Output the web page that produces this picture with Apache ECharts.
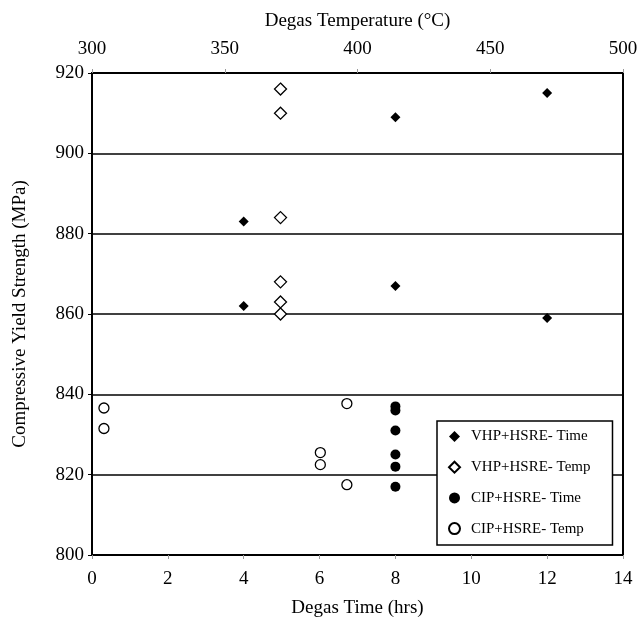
<!DOCTYPE html>
<html><head><meta charset="utf-8">
<script src="https://cdn.jsdelivr.net/npm/echarts@6/dist/echarts.min.js"></script>
<style>html,body{margin:0;padding:0;background:#fff}#c{width:637px;height:618px}</style>
</head><body><div id="c"></div>
<script>
// Degas time (hrs) vs yield strength (MPa)
const vhpTimeX = [4, 4, 8, 8, 12, 12];
const vhpTimeY = [883, 862, 909, 867, 915, 859];
// Degas temperature (°C) vs yield strength
const vhpTempX = [371, 371, 371, 371, 371, 371];
const vhpTempY = [916, 910, 884, 868, 863, 860];
const cipTimeX = [8, 8, 8, 8, 8, 8];
const cipTimeY = [837, 836, 831, 825, 822, 817];
const cipTempX = [304.5, 304.5, 386, 386, 396, 396];
const cipTempY = [836.6, 831.5, 825.5, 822.5, 837.7, 817.5];
const seriesNames = ['VHP+HSRE- Time', 'VHP+HSRE- Temp', 'CIP+HSRE- Time', 'CIP+HSRE- Temp'];

const zip = (a, b) => a.map((v, i) => [v, b[i]]);
const font = 'Liberation Serif';
const chart = echarts.init(document.getElementById('c'), null, {renderer: 'canvas'});
chart.setOption({
  animation: false,
  backgroundColor: '#fff',
  textStyle: {fontFamily: font, color: '#000'},
  grid: {left: 92, right: 14, top: 73, bottom: 63, show: true, borderColor: '#000', borderWidth: 2,
         outerBoundsMode: 'none', containLabel: false},
  legend: {
    orient: 'vertical', left: 437, top: 421,
    padding: [8, 22, 9, 11], itemGap: 15.7, itemWidth: 11, itemHeight: 11,
    backgroundColor: '#fff', borderColor: '#000', borderWidth: 1.5,
    textStyle: {fontFamily: font, fontSize: 15, color: '#000', padding: [0, 0, 0, 6]},
    data: seriesNames
  },
  xAxis: [
    {type: 'value', position: 'bottom', min: 0, max: 14, interval: 2,
     name: 'Degas Time (hrs)', nameLocation: 'middle', nameGap: 44,
     nameTextStyle: {fontFamily: font, fontSize: 19, color: '#000'},
     axisLine: {show: true, lineStyle: {color: '#000', width: 2}},
     axisTick: {show: true, length: 4, lineStyle: {color: '#999'}},
     axisLabel: {fontFamily: font, fontSize: 19, color: '#000', margin: 15},
     splitLine: {show: false}},
    {type: 'value', position: 'top', min: 300, max: 500, interval: 50,
     name: 'Degas Temperature (°C)', nameLocation: 'middle', nameGap: 42,
     nameTextStyle: {fontFamily: font, fontSize: 19, color: '#000'},
     axisLine: {show: true, lineStyle: {color: '#000', width: 2}},
     axisTick: {show: true, length: 4, lineStyle: {color: '#999'}},
     axisLabel: {fontFamily: font, fontSize: 19, color: '#000', margin: 14},
     splitLine: {show: false}}
  ],
  yAxis: {type: 'value', min: 800, max: 920, interval: 20,
    name: 'Compressive Yield Strength (MPa)', nameLocation: 'middle', nameGap: 62,
    nameTextStyle: {fontFamily: font, fontSize: 19, color: '#000'},
    axisLine: {show: true, lineStyle: {color: '#000', width: 2}},
    axisTick: {show: true, length: 4, lineStyle: {color: '#000'}},
    axisLabel: {fontFamily: font, fontSize: 19, color: '#000', margin: 8},
    splitLine: {show: true, lineStyle: {color: '#000', width: 1.5}}},
  series: [
    {name: seriesNames[0], type: 'scatter', xAxisIndex: 0, symbol: 'diamond', symbolSize: 10,
     itemStyle: {color: '#000', opacity: 1}, data: zip(vhpTimeX, vhpTimeY)},
    {name: seriesNames[1], type: 'scatter', xAxisIndex: 1, symbol: 'diamond', symbolSize: 12,
     itemStyle: {color: '#fff', borderColor: '#000', borderWidth: 1.3, opacity: 1}, data: zip(vhpTempX, vhpTempY)},
    {name: seriesNames[2], type: 'scatter', xAxisIndex: 0, symbol: 'circle', symbolSize: 10,
     itemStyle: {color: '#000', opacity: 1}, data: zip(cipTimeX, cipTimeY)},
    {name: seriesNames[3], type: 'scatter', xAxisIndex: 1, symbol: 'circle', symbolSize: 10,
     itemStyle: {color: '#fff', borderColor: '#000', borderWidth: 1.3, opacity: 1}, data: zip(cipTempX, cipTempY)}
  ]
});
</script></body></html>
